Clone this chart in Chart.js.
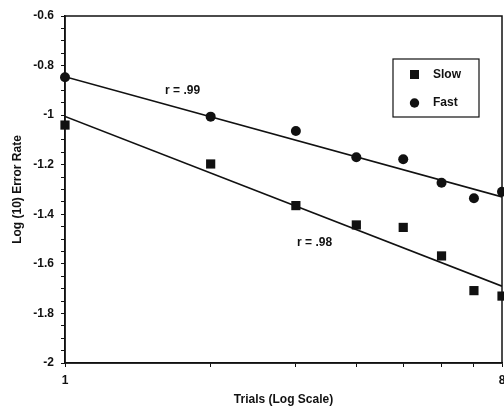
<!DOCTYPE html>
<html>
<head>
<meta charset="utf-8">
<script src="https://cdn.jsdelivr.net/npm/chart.js@4"></script>
<style>
  html, body { margin: 0; padding: 0; background: #fff; }
  #wrap { width: 504px; height: 408px; }
</style>
</head>
<body>
<div id="wrap"><canvas id="grafico"></canvas></div>
<script>
// values
const trials = [1, 2, 3, 4, 5, 6, 7, 8];
const slowErr = [-1.04, -1.197, -1.365, -1.443, -1.453, -1.568, -1.708, -1.73];
const fastErr = [-0.847, -1.006, -1.064, -1.17, -1.178, -1.273, -1.335, -1.309];
const fitX = [1, 8];
const fitSlow = [-1.005, -1.69];
const fitFast = [-0.845, -1.33];
const xTickValues = [1, 2, 3, 4, 5, 6, 7, 8];
const xTickLabels = [1, 8];
const notas = [
  { text: 'r = .99', x: 1.75, y: -0.903 },
  { text: 'r = .98', x: 3.28, y: -1.516 }
];

const FUENTE = '"Liberation Sans", Arial, sans-serif';
const NEGRO = '#111';

function puntos(xs, ys) {
  return xs.map((x, i) => ({ x: x, y: ys[i] }));
}

// frame, legend box and r annotations
const extras = {
  id: 'extras',
  beforeDatasetsDraw(chart) {
    const a = chart.chartArea;
    const ctx = chart.ctx;
    ctx.save();
    ctx.strokeStyle = NEGRO;
    ctx.lineWidth = 1.5;
    ctx.strokeRect(a.left, a.top, a.right - a.left, a.bottom - a.top);
    ctx.restore();
  },
  afterDatasetsDraw(chart) {
    const a = chart.chartArea;
    const ctx = chart.ctx;
    const xs = chart.scales.x, ys = chart.scales.y;
    ctx.save();
    ctx.fillStyle = NEGRO;
    ctx.font = 'bold 12px ' + FUENTE;
    ctx.textAlign = 'center';
    ctx.textBaseline = 'middle';
    notas.forEach(n => {
      ctx.fillText(n.text, xs.getPixelForValue(n.x), ys.getPixelForValue(n.y));
    });

    // legend
    const bx = a.right - 109, by = a.top + 43, bw = 86, bh = 58;
    ctx.fillStyle = '#fff';
    ctx.fillRect(bx, by, bw, bh);
    ctx.strokeStyle = NEGRO;
    ctx.lineWidth = 1.2;
    ctx.strokeRect(bx, by, bw, bh);
    ctx.fillStyle = NEGRO;
    ctx.fillRect(bx + 17, by + 11, 9, 9);
    ctx.beginPath();
    ctx.arc(bx + 21.5, by + 44, 4.7, 0, Math.PI * 2);
    ctx.fill();
    ctx.textAlign = 'left';
    ctx.fillText('Slow', bx + 40, by + 15.5);
    ctx.fillText('Fast', bx + 40, by + 44);
    ctx.restore();
  }
};

new Chart(document.getElementById('grafico'), {
  type: 'scatter',
  data: {
    datasets: [
      { label: 'Slow', data: puntos(trials, slowErr), pointStyle: 'rect', pointRadius: 6.5,
        backgroundColor: NEGRO, borderColor: NEGRO, borderWidth: 0, showLine: false, clip: false },
      { label: 'Fast', data: puntos(trials, fastErr), pointStyle: 'circle', pointRadius: 5,
        backgroundColor: NEGRO, borderColor: NEGRO, borderWidth: 0, showLine: false, clip: false },
      { type: 'line', label: 'fitSlow', data: puntos(fitX, fitSlow), borderColor: NEGRO,
        borderWidth: 1.6, pointRadius: 0, fill: false },
      { type: 'line', label: 'fitFast', data: puntos(fitX, fitFast), borderColor: NEGRO,
        borderWidth: 1.6, pointRadius: 0, fill: false }
    ]
  },
  options: {
    responsive: true,
    maintainAspectRatio: false,
    animation: false,
    layout: { autoPadding: false, padding: { top: 16, right: 2, left: 0, bottom: 0 } },
    plugins: { legend: { display: false }, tooltip: { enabled: false } },
    scales: {
      x: {
        type: 'logarithmic',
        min: 1,
        max: 8,
        afterBuildTicks: s => { s.ticks = xTickValues.map(v => ({ value: v })); },
        afterFit: s => { s.height = 45; s.paddingRight = 0; s.paddingLeft = 0; },
        grid: { drawOnChartArea: false, tickLength: 4, tickColor: NEGRO },
        border: { color: NEGRO, width: 1.5 },
        ticks: {
          autoSkip: false,
          maxRotation: 0,
          padding: 6,
          color: NEGRO,
          font: { family: FUENTE, size: 12, weight: 'bold' },
          callback: v => xTickLabels.includes(v) ? String(v) : ''
        },
        title: {
          display: true,
          text: 'Trials (Log Scale)',
          color: NEGRO,
          font: { family: FUENTE, size: 12, weight: 'bold' },
          padding: { top: 4, bottom: 1 }
        }
      },
      y: {
        min: -2,
        max: -0.6,
        afterFit: s => { s.width = 65; s.paddingTop = 0; s.paddingBottom = 0; },
        grid: { drawOnChartArea: false, tickLength: 4, tickColor: NEGRO },
        border: { color: NEGRO, width: 1.5 },
        ticks: {
          stepSize: 0.05,
          autoSkip: false,
          padding: 7,
          color: NEGRO,
          font: { family: FUENTE, size: 12, weight: 'bold' },
          callback: v => Math.abs(v * 5 - Math.round(v * 5)) < 1e-6 ? String(Math.round(v * 10) / 10) : ''
        },
        title: {
          display: true,
          text: 'Log (10) Error Rate',
          color: NEGRO,
          font: { family: FUENTE, size: 12, weight: 'bold' },
          padding: { top: 10, bottom: 4 }
        }
      }
    }
  },
  plugins: [extras]
});
</script>
</body>
</html>
